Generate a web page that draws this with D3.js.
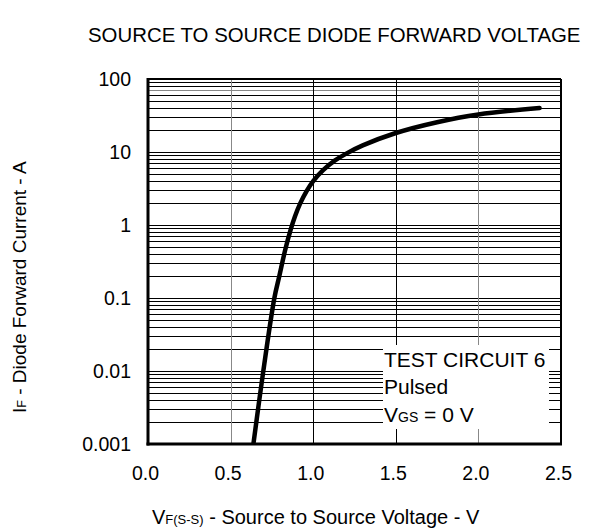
<!DOCTYPE html>
<html><head><meta charset="utf-8">
<script src="https://cdn.jsdelivr.net/npm/d3@7"></script>
<style>
body{margin:0;background:#fff;}
svg text{font-family:"Liberation Sans",Arial,sans-serif;fill:#000;}
</style></head>
<body><svg id="c" width="595" height="532"></svg>
<script>
// ---- data ----
const xTicks = [0.0, 0.5, 1.0, 1.5, 2.0, 2.5];
const xTickLabels = ["0.0","0.5","1.0","1.5","2.0","2.5"];
const yTicks = [0.001, 0.01, 0.1, 1, 10, 100];
const yTickLabels = ["0.001","0.01","0.1","1","10","100"];
const minorMultipliers = [2,3,4,5,6,7,8,9];
const voltage = [0.638, 0.698, 0.765, 0.795, 0.83, 0.864, 0.89, 0.92, 0.96, 1.0, 1.06, 1.13, 1.2, 1.3, 1.5, 1.75, 2.0, 2.37];
const current = [0.001, 0.01, 0.1, 0.2, 0.45, 0.87, 1.32, 1.95, 2.92, 4.0, 5.65, 7.6, 9.5, 12.3, 18.2, 25.6, 32.7, 40];

const svg = d3.select("#c");
const L=148, R=561, T=79, B=444;
const x = d3.scaleLinear().domain([0,2.5]).range([L,R]);
const y = d3.scaleLog().domain([0.001,100]).range([B,T]);

// title
svg.append("text").attr("x",88).attr("y",42).attr("font-size",20.4)
  .text("SOURCE TO SOURCE DIODE FORWARD VOLTAGE");

// gridlines horizontal
const g = svg.append("g").attr("shape-rendering","crispEdges");
const hLines = [];
yTicks.slice(0,-1).forEach(d=>{ minorMultipliers.forEach(m=>hLines.push(d*m)); });
yTicks.slice(1,-1).forEach(d=>hLines.push(d));
g.selectAll("line.h").data(hLines).join("line")
  .attr("x1",L).attr("x2",R).attr("y1",d=>Math.round(y(d))+0.5).attr("y2",d=>Math.round(y(d))+0.5)
  .attr("stroke",d=>Math.abs(d-70)<1e-6?"#888":"#000").attr("stroke-width",1);
// vertical gridlines
g.selectAll("line.v").data(xTicks.slice(1,-1)).join("line")
  .attr("y1",T).attr("y2",B).attr("x1",d=>Math.round(x(d))+0.5).attr("x2",d=>Math.round(x(d))+0.5)
  .attr("stroke",d=>(d===0.5||d===2.0)?"#888":"#000").attr("stroke-width",1);

// text box white background
svg.append("rect").attr("x",383).attr("y",345).attr("width",166).attr("height",84).attr("fill","#fff");

// frame
svg.append("line").attr("x1",L).attr("x2",R).attr("y1",T).attr("y2",T).attr("stroke","#000").attr("stroke-width",2);
svg.append("line").attr("x1",R).attr("x2",R).attr("y1",T).attr("y2",B).attr("stroke","#000").attr("stroke-width",2);
svg.append("line").attr("x1",L).attr("x2",L).attr("y1",T-1).attr("y2",B+1.5).attr("stroke","#000").attr("stroke-width",3);
svg.append("line").attr("x1",L-1.5).attr("x2",R+1).attr("y1",B).attr("y2",B).attr("stroke","#000").attr("stroke-width",3);

// axes labels
const yAxis = d3.axisLeft(y).tickValues(yTicks).tickSize(0).tickPadding(17)
  .tickFormat((d,i)=>yTickLabels[i]);
const ya = svg.append("g").attr("transform",`translate(${L},0)`).call(yAxis);
ya.select(".domain").remove();
ya.selectAll("text").attr("font-size",19.5).attr("font-family","Liberation Sans, Arial, sans-serif");

const xAxis = d3.axisBottom(x).tickValues(xTicks).tickSize(0).tickPadding(22)
  .tickFormat((d,i)=>xTickLabels[i]);
const xa = svg.append("g").attr("transform",`translate(0,${B})`).call(xAxis);
xa.select(".domain").remove();
xa.selectAll("text").attr("font-size",19.5).attr("font-family","Liberation Sans, Arial, sans-serif").attr("dx",-3);

// curve
svg.append("clipPath").attr("id","clip").append("rect").attr("x",L).attr("y",T).attr("width",R-L).attr("height",B-T);
const pts = voltage.map((v,i)=>[v,current[i]]);
svg.append("path").datum(pts)
  .attr("d", d3.line().x(d=>x(d[0])).y(d=>y(d[1])).curve(d3.curveCatmullRom.alpha(0.5)))
  .attr("fill","none").attr("stroke","#000").attr("stroke-width",4.5)
  .attr("stroke-linecap","round").attr("stroke-linejoin","round").attr("clip-path","url(#clip)");

// text box
const tb = svg.append("g").attr("font-size",21);
tb.append("text").attr("x",384).attr("y",366.5).text("TEST CIRCUIT 6");
tb.append("text").attr("x",384).attr("y",394).text("Pulsed");
const t3 = tb.append("text").attr("x",384).attr("y",421.5);
t3.append("tspan").text("V");
t3.append("tspan").attr("font-size",14).text("GS");
t3.append("tspan").text(" = 0 V");

// axis titles
const xt = svg.append("text").attr("x",152).attr("y",524).attr("font-size",20);
xt.append("tspan").text("V");
xt.append("tspan").attr("font-size",13).text("F(S-S)");
xt.append("tspan").text(" - Source to Source Voltage - V");

const yt = svg.append("text").attr("transform","translate(26,413) rotate(-90)").attr("font-size",19);
yt.append("tspan").text("I");
yt.append("tspan").attr("font-size",12.5).text("F");
yt.append("tspan").text(" - Diode Forward Current - A");
</script></body></html>
